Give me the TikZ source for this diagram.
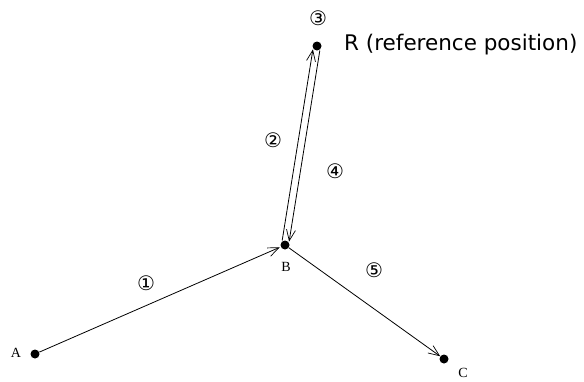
\documentclass[tikz,border=0pt]{standalone}
\usepackage{fontspec}
\setmainfont{Liberation Serif}
\newfontfamily\circfont{DejaVu Sans}
\newfontfamily\labfont{DejaVu Sans}
\usetikzlibrary{arrows.meta,calc}
\begin{document}
\begin{tikzpicture}[x=1pt,y=-1pt,
  pt/.style={circle,fill=black,inner sep=0pt,minimum size=9pt},
  conn/.style={draw=black,line width=0.8pt,-{Straight Barb[length=11pt,width=9pt,line width=0.7pt]}},
  num/.style={font=\circfont\fontsize{20}{20}\selectfont,inner sep=0pt},
  letter/.style={font=\fontsize{14}{14}\selectfont,inner sep=0pt}]
\useasboundingbox (0,0) rectangle (584,381);
\node[pt] (A) at (35,354) {};
\node[pt] (B) at (285,245) {};
\node[pt] (R) at (317,46) {};
\node[pt] (C) at (444,359) {};
\node[letter] (lA) at (16,353) {A};
\node[letter] (lB) at (286,267) {B};
\node[letter] (lC) at (463,373) {C};
\node[font=\labfont\fontsize{21.5}{21.5}\selectfont,anchor=west,inner sep=0pt] (lR) at (344,45) {R (reference position)};
\node[num] (n1) at (146,283) {①};
\node[num] (n2) at (273,140) {②};
\node[num] (n3) at (318,18) {③};
\node[num] (n4) at (335,171) {④};
\node[num] (n5) at (374,270) {⑤};
\coordinate (B2) at ($(B)!3.5pt!90:(R)$);
\coordinate (R2) at ($(R)!3.5pt!-90:(B)$);
\coordinate (B4) at ($(B)!3.5pt!-90:(R)$);
\coordinate (R4) at ($(R)!3.5pt!90:(B)$);
\draw[conn,shorten >=1pt] (A) -- (B);
\draw[conn,shorten >=4pt,shorten <=4pt] (B2) -- (R2);
\draw[conn,shorten >=4pt,shorten <=4pt] (R4) -- (B4);
\draw[conn] (B) -- (C);
\end{tikzpicture}
\end{document}
